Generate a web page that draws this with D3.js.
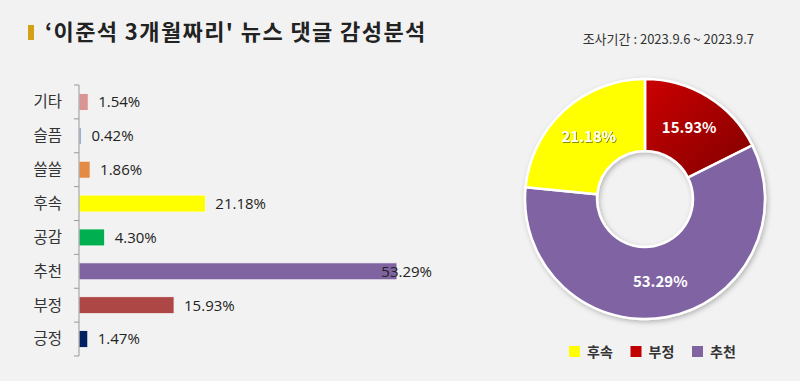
<!DOCTYPE html>
<html><head><meta charset="utf-8">
<script src="https://cdn.jsdelivr.net/npm/d3@7/dist/d3.min.js"></script>
<style>
html,body{margin:0;padding:0;background:#f2f2f2;}
svg{display:block;font-family:"Noto Sans CJK KR","Noto Sans",sans-serif;}
</style></head><body>
<svg id="c" width="800" height="381"></svg>
<script>
const categories = ["기타","슬픔","쓸쓸","후속","공감","추천","부정","긍정"];
const values = [1.54,0.42,1.86,21.18,4.30,53.29,15.93,1.47];
const barColors = ["#d99594","#95b3d7","#e38b45","#ffff00","#00b050","#8064a2","#ac4746","#002060"];
const donutCats = ["부정","추천","후속"];
const donutValues = [15.93,53.29,21.18];
const donutColors = ["#b00000","#8064a2","#ffff00"];
const legendOrder = ["후속","부정","추천"];
const legendColors = {"후속":"#ffff00","부정":"#c00000","추천":"#8064a2"};
const title = "‘이준석 3개월짜리' 뉴스 댓글 감성분석";
const subtitle = "조사기간 : 2023.9.6 ~ 2023.9.7";

const svg = d3.select("#c");
const defs = svg.append("defs");
const grad = defs.append("linearGradient").attr("id","redg").attr("x1","0").attr("y1","0").attr("x2","1").attr("y2","1");
grad.append("stop").attr("offset","0%").attr("stop-color","#cc0000");
grad.append("stop").attr("offset","100%").attr("stop-color","#7f0000");
const sh = defs.append("filter").attr("id","sh").attr("x","-20%").attr("y","-20%").attr("width","140%").attr("height","140%");
sh.append("feDropShadow").attr("dx",1.5).attr("dy",2).attr("stdDeviation",2.5).attr("flood-color","#000").attr("flood-opacity",0.25);
const tsh = defs.append("filter").attr("id","tsh");
tsh.append("feDropShadow").attr("dx",1).attr("dy",1).attr("stdDeviation",0.6).attr("flood-color","#000").attr("flood-opacity",0.45);

// title
svg.append("rect").attr("x",28).attr("y",25).attr("width",6).attr("height",15).attr("fill","#d4a017");
svg.append("text").attr("x",45).attr("y",40).attr("font-size",22).attr("font-weight","bold").attr("letter-spacing",1.4).attr("fill","#222").text(title);
svg.append("text").attr("x",754).attr("y",44).attr("text-anchor","end").attr("font-size",13).attr("fill","#333").text(subtitle);

// bar chart
const x = d3.scaleLinear().domain([0,60]).range([79,79+358]);
const y = d3.scaleBand().domain(categories).range([85,356]).paddingInner(0.5).paddingOuter(0.25);
const yAxisScale = d3.scaleBand().domain(categories).range([85,356]);
const g = svg.append("g");
g.selectAll("rect.bar").data(categories).join("rect")
  .attr("x",x(0)).attr("y",d=>y(d)).attr("width",(d,i)=>x(values[i])-x(0)).attr("height",y.bandwidth())
  .attr("fill",(d,i)=>barColors[i]).attr("stroke","#f8f8f8").attr("stroke-width",0.8);
// axis
g.append("line").attr("x1",79).attr("x2",79).attr("y1",85).attr("y2",356).attr("stroke","#999").attr("stroke-width",1);
const tickYs = categories.map(c=>yAxisScale(c)).concat([356]);
g.selectAll("line.tk").data(tickYs).join("line").attr("class","tk")
  .attr("x1",74).attr("x2",79).attr("y1",d=>d).attr("y2",d=>d).attr("stroke","#999");
g.selectAll("text.cat").data(categories).join("text").attr("class","cat")
  .attr("x",62).attr("y",d=>y(d)+y.bandwidth()/2).attr("dy","0.35em").attr("text-anchor","end")
  .attr("font-size",15.5).attr("fill","#333").text(d=>d);
const vl = g.selectAll("text.val").data(categories).join("text").attr("class","val")
  .attr("y",d=>y(d)+y.bandwidth()/2).attr("dy","0.36em")
  .attr("font-family","'Open Sans',sans-serif")
  .attr("font-size",15).attr("fill","#222").text((d,i)=>values[i].toFixed(2)+"%");
vl.each(function(d,i){
  const w = this.getComputedTextLength();
  let xx = x(values[i]) + 10;
  if (xx + w > 432) xx = 432 - w;
  d3.select(this).attr("x",xx);
});

// donut
const cx=645, cy=199, R=120, r=48;
const pie = d3.pie().sort(null).value(d=>d);
const arcs = pie(donutValues);
const arc = d3.arc().innerRadius(r).outerRadius(R);
const dg = svg.append("g").attr("transform",`translate(${cx},${cy})`);
const dsh = dg.append("g").attr("filter","url(#sh)");
dsh.selectAll("path").data(arcs).join("path").attr("d",arc)
  .attr("fill",(d,i)=>i===0?"url(#redg)":donutColors[i]).attr("stroke","#fff").attr("stroke-width",2.5);
dg.selectAll("text").data(arcs).join("text")
  .attr("transform",d=>`translate(${arc.centroid(d)})`).attr("text-anchor","middle").attr("dy","0.36em")
  .attr("font-size",15).attr("font-weight","bold").attr("fill","#fff")
  .attr("filter",(d,i)=>i===2?"url(#tsh)":null)
  .text((d,i)=>donutValues[i].toFixed(2)+"%");

// legend
const lx = d3.scalePoint().domain(legendOrder).range([569,692]);
const lg = svg.append("g");
lg.selectAll("rect").data(legendOrder).join("rect").attr("x",d=>lx(d)).attr("y",346).attr("width",11).attr("height",11).attr("fill",d=>legendColors[d]);
lg.selectAll("text").data(legendOrder).join("text").attr("x",d=>lx(d)+18).attr("y",352).attr("dy","0.36em")
  .attr("font-size",14).attr("font-weight","bold").attr("fill","#333").text(d=>d);
</script>
</body></html>
